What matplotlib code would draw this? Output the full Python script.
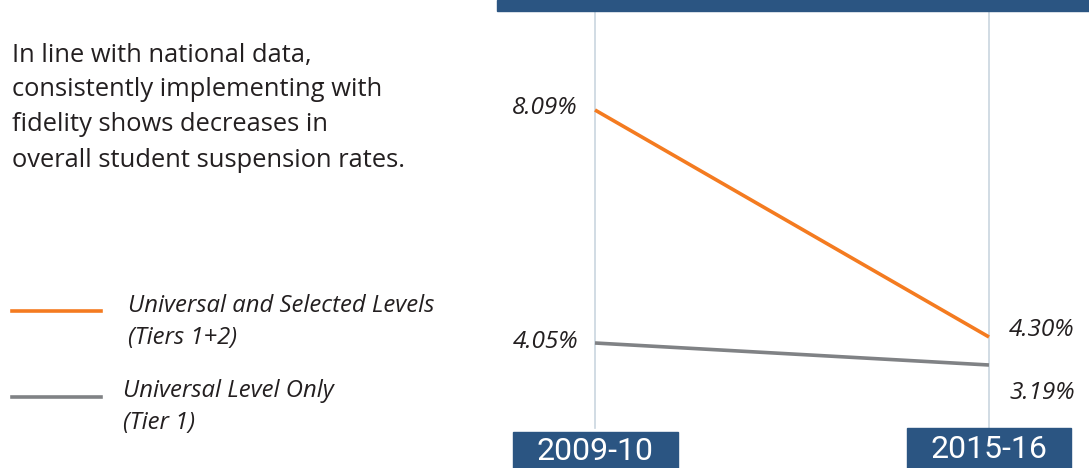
import matplotlib
matplotlib.use("Agg")
import matplotlib.pyplot as plt
from matplotlib.patches import Rectangle
from matplotlib.lines import Line2D

# ---- data ----
categories = ["2009-10", "2015-16"]
tiers12 = [8.09, 4.30]   # Universal and Selected Levels (Tiers 1+2)
tier1 = [4.05, 3.19]     # Universal Level Only (Tier 1)
series_names = ["Universal and Selected Levels\n(Tiers 1+2)", "Universal Level Only\n(Tier 1)"]
intro_lines = ["In line with national data,",
               "consistently implementing with",
               "fidelity shows decreases in",
               "overall student suspension rates."]

W, H = 1089, 468
fig = plt.figure(figsize=(W / 100, H / 100), dpi=100)
fig.patch.set_facecolor("white")

ORANGE = "#F47B20"
GRAY = "#808285"
NAVY = "#2B5582"
VLINE = "#C9D5DF"
TXT = "#231F20"

def fx(px):
    return px / W

def fy(py):
    return 1 - py / H

# main axes: x from 497 to 1089 px, full height
ax_l, ax_r = 497, 1089
ax = fig.add_axes([fx(ax_l), 0, fx(ax_r - ax_l), 1])
x0_px, x1_px = 595, 989
span = x1_px - x0_px
ax.set_xlim((ax_l - x0_px) / span, (ax_r - x0_px) / span)

# orange scale: 8.09 -> y=110, 4.30 -> y=337
ppu_o = (337 - 110) / (tiers12[0] - tiers12[1])
ax.set_ylim(tiers12[0] - (H - 110) / ppu_o, tiers12[0] + 110 / ppu_o)
ax.axis("off")

# gray series on twin axis: 4.05 -> y=343, 3.19 -> y=365
ax2 = ax.twinx()
ppu_g = (365 - 343) / (tier1[0] - tier1[1])
ax2.set_ylim(tier1[0] - (H - 343) / ppu_g, tier1[0] + 343 / ppu_g)
ax2.axis("off")

xs = list(range(len(categories)))

# vertical guide lines
for xi in xs:
    ax.axvline(xi, ymin=1 - 428 / H, ymax=1 - 11 / H, color=VLINE, lw=1.2, zorder=1)

ax.plot(xs, tiers12, color=ORANGE, lw=2.6, solid_capstyle="butt", zorder=3)
ax2.plot(xs, tier1, color=GRAY, lw=2.6, solid_capstyle="butt", zorder=3)

lab_font = dict(family="Open Sans", style="italic", size=17.6, color=TXT)
ax.annotate(f"{tiers12[0]:.2f}%", (xs[0], tiers12[0]), xytext=(-17, 2),
            textcoords="offset pixels", ha="right", va="center", **lab_font)
ax.annotate(f"{tiers12[1]:.2f}%", (xs[1], tiers12[1]), xytext=(20, 7),
            textcoords="offset pixels", ha="left", va="center", **lab_font)
ax2.annotate(f"{tier1[0]:.2f}%", (xs[0], tier1[0]), xytext=(-17, 1),
             textcoords="offset pixels", ha="right", va="center", **lab_font)
ax2.annotate(f"{tier1[1]:.2f}%", (xs[1], tier1[1]), xytext=(20, -28),
             textcoords="offset pixels", ha="left", va="center", **lab_font)

# top navy bar
fig.patches.append(Rectangle((fx(497), fy(11)), fx(W - 497), 11 / H,
                             transform=fig.transFigure, color=NAVY, zorder=0))

# category boxes
boxes = [(513, 432, 678, 468), (907, 428, 1071, 468)]
for (bx0, by0, bx1, by1), cat in zip(boxes, categories):
    fig.patches.append(Rectangle((fx(bx0), fy(by1)), fx(bx1 - bx0), (by1 - by0) / H,
                                 transform=fig.transFigure, color=NAVY, zorder=0))
    fig.text(fx((bx0 + bx1) / 2), fy((by0 + by1) / 2 + 1), cat, ha="center", va="center",
             family="Roboto", size=23, color="white")

# intro paragraph
baselines = [62, 96, 131, 167]
for line, b in zip(intro_lines, baselines):
    fig.text(fx(12), fy(b), line, ha="left", va="baseline",
             family="Open Sans", size=18.4, color=TXT)

# legend
leg_items = [(ORANGE, 311, 128, 312), (GRAY, 397, 123, 397)]
for (col, ly, tx, tb), name in zip(leg_items, series_names):
    fig.lines.append(Line2D([fx(12), fx(101)], [fy(ly), fy(ly)], transform=fig.transFigure,
                            color=col, lw=2.6))
    l1, l2 = name.split("\n")
    fig.text(fx(tx), fy(tb), l1, ha="left", va="baseline", family="Open Sans",
             style="italic", size=17.2, color=TXT)
    fig.text(fx(tx), fy(tb + 32), l2, ha="left", va="baseline", family="Open Sans",
             style="italic", size=17.2, color=TXT)

fig.savefig("out.png", dpi=100, facecolor="white")
